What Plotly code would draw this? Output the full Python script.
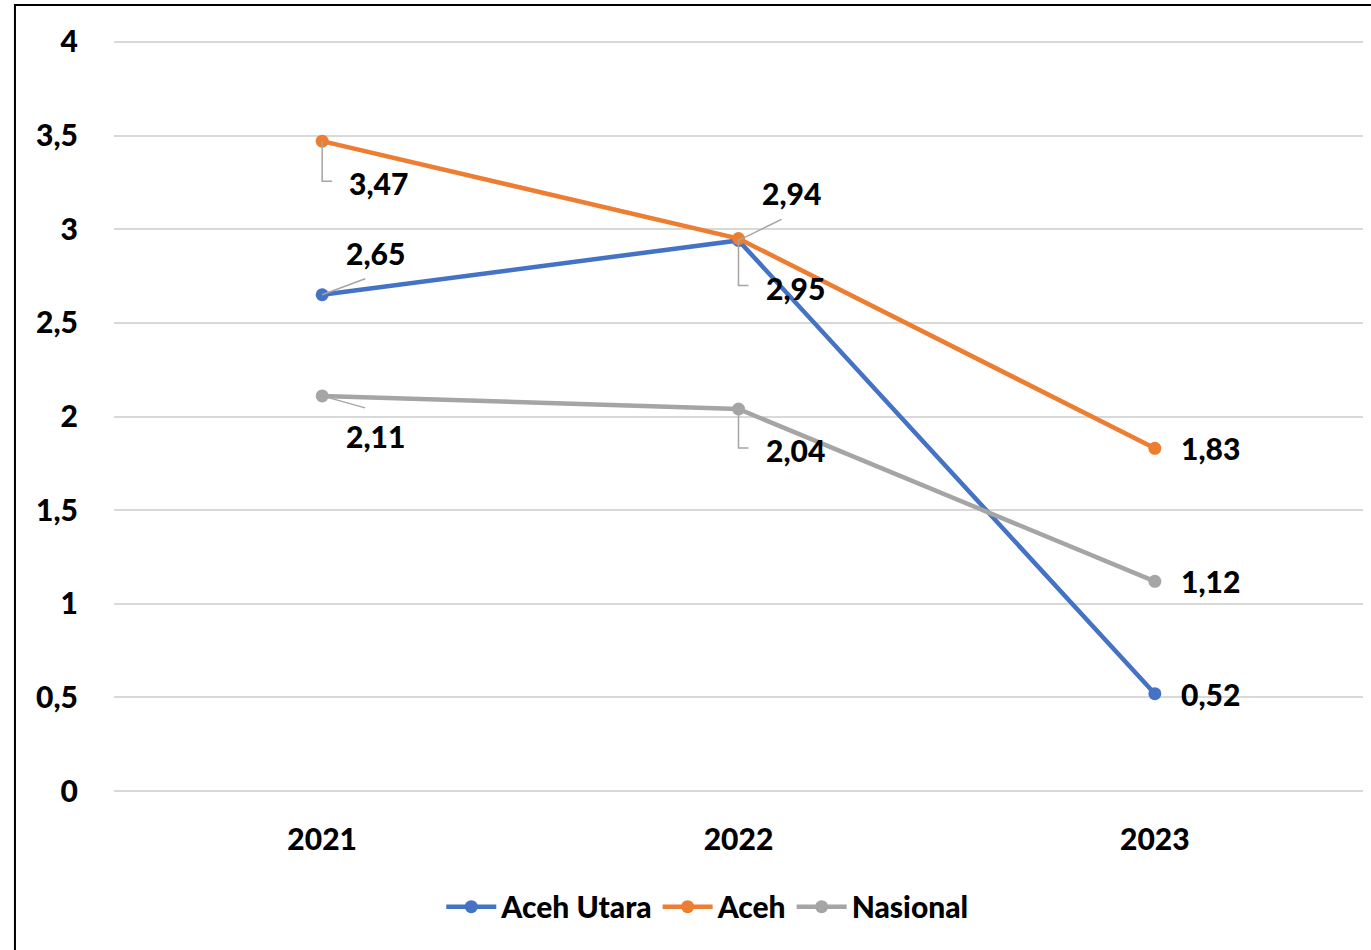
import plotly.graph_objects as go

years = ["2021", "2022", "2023"]
aceh_utara = [2.65, 2.94, 0.52]
aceh = [3.47, 2.95, 1.83]
nasional = [2.11, 2.04, 1.12]
y_tickvals = [0, 0.5, 1, 1.5, 2, 2.5, 3, 3.5, 4]
y_ticktext = ["0", "0,5", "1", "1,5", "2", "2,5", "3", "3,5", "4"]

series = [
    ("Aceh Utara", aceh_utara, "#4472C4"),
    ("Aceh", aceh, "#ED7D31"),
    ("Nasional", nasional, "#A5A5A5"),
]

# label offsets (pixels) and leader style per point: (dx, dy, leader)
label_pos = {
    "Aceh Utara": [(53, 42, "diag"), (53, 47, "diag"), (56, 0, None)],
    "Aceh": [(56, -42, "elbow"), (57, -49, "elbow"), (56, 0, None)],
    "Nasional": [(53, -40, "diag_down"), (57, -41, "elbow"), (56, 0, None)],
}

FONT = "Lato"
FS = 30
W = 900
xpos = list(range(len(years)))

fig = go.Figure()
for name, vals, col in series:
    fig.add_trace(go.Scatter(
        x=xpos, y=vals, name=name, mode="lines+markers",
        line=dict(color=col, width=4.5),
        marker=dict(color=col, size=13),
    ))

annotations = []
shapes = []
for name, vals, col in series:
    for i, v in enumerate(vals):
        dx, dy, leader = label_pos[name][i]
        annotations.append(dict(
            x=xpos[i], y=v, xref="x", yref="y", text=f"{v:.2f}".replace(".", ","),
            showarrow=False, xshift=dx, yshift=dy,
            font=dict(family=FONT, size=FS, color="black", weight=W),
        ))
        if leader == "diag":
            path = f"M0,0 L{dx-10},{dy-26}"
        elif leader == "diag_down":
            path = f"M0,0 L{dx-10},-12"
        elif leader == "elbow":
            path = f"M0,0 L0,{dy+2} L10,{dy+2}"
        else:
            continue
        shapes.append(dict(
            type="path", xref="x", yref="y", xsizemode="pixel", ysizemode="pixel",
            xanchor=xpos[i], yanchor=v, path=path,
            line=dict(color="#A5A5A5", width=1.5),
        ))

# outer chart border
shapes.append(dict(type="rect", xref="paper", yref="paper",
                   x0=-0.0793, x1=1.2, y0=-0.4, y1=1.0465,
                   line=dict(color="black", width=2), layer="below"))

fig.update_layout(
    width=1371, height=950,
    margin=dict(l=114, r=8, t=40, b=157),
    paper_bgcolor="white", plot_bgcolor="white",
    font=dict(family=FONT, size=FS, color="black", weight=W),
    xaxis=dict(range=[-0.5, 2.5], tickvals=xpos, ticktext=years,
               showgrid=False, showline=False, zeroline=False,
               ticks="", ticklabelstandoff=26,
               tickfont=dict(family=FONT, size=FS, color="black", weight=W)),
    yaxis=dict(range=[-0.01, 4.01], tickvals=y_tickvals, ticktext=y_ticktext,
               showgrid=True, gridcolor="#D9D9D9", gridwidth=2,
               zeroline=False, showline=False, ticks="", ticklabelstandoff=35,
               tickfont=dict(family=FONT, size=FS, color="black", weight=W)),
    legend=dict(orientation="h", x=0.475, xanchor="center", y=-0.151, yanchor="middle",
                font=dict(family=FONT, size=FS, color="black", weight=W),
                itemwidth=50),
    showlegend=True,
    annotations=annotations,
    shapes=shapes,
)

fig.write_html("out.html", config={"displayModeBar": False},
               post_script="document.body.style.margin='0';")
